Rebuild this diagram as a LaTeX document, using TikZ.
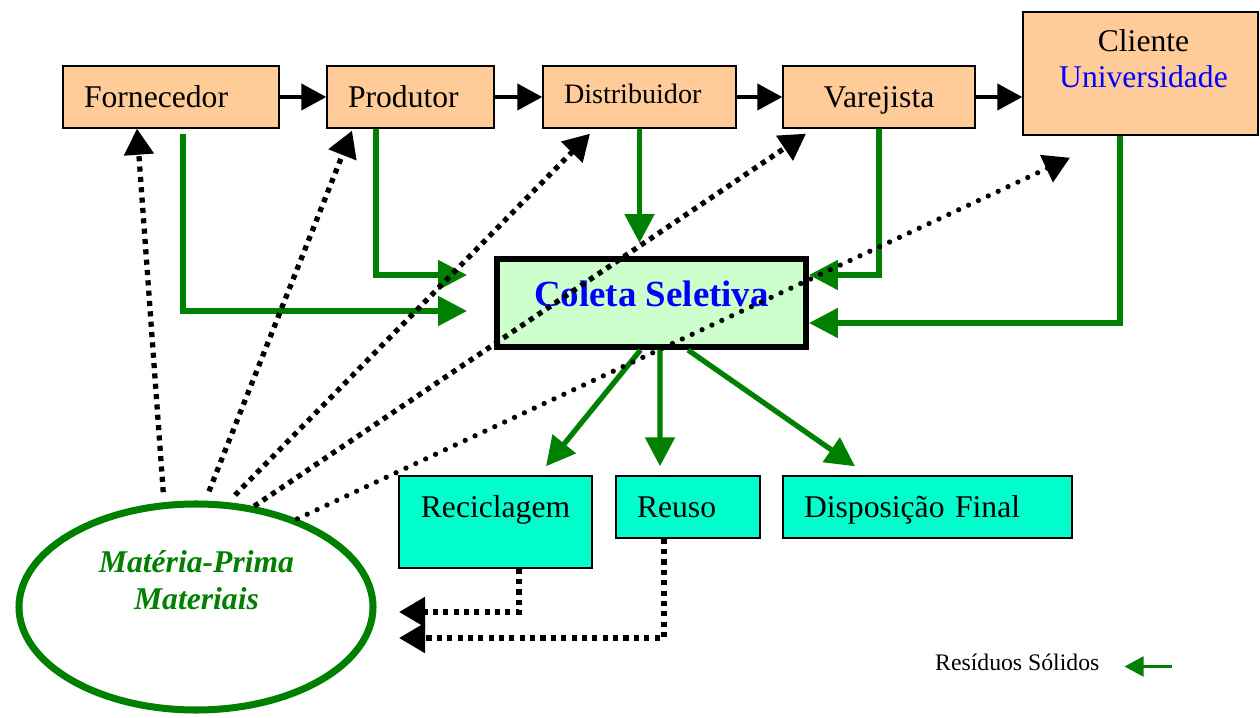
\documentclass[tikz,border=0pt]{standalone}
\usepackage{fontspec}
\setmainfont{Liberation Serif}
\usetikzlibrary{arrows.meta, shapes.geometric}
\definecolor{peach}{RGB}{255,204,153}
\definecolor{aqua}{RGB}{0,255,204}
\definecolor{mint}{RGB}{204,255,204}
\definecolor{leaf}{RGB}{0,128,0}
\tikzset{
  chain/.style={draw, line width=0.8pt, fill=peach, minimum height=1.24cm, inner xsep=0.42cm, font=\fontsize{18}{21}\selectfont},
  dest/.style={chain, fill=aqua},
  flow/.style={line width=2.4pt, -{Triangle[length=0.5cm,width=0.52cm]}},
  waste/.style={leaf, line width=3pt, -{Triangle[length=0.58cm,width=0.58cm]}},
  dots/.style={line width=3pt, dash pattern=on 2.9pt off 3pt, -{Triangle[length=0.52cm,width=0.58cm]}},
  specks/.style={line width=3pt, line cap=round, dash pattern=on 0pt off 6.2pt, -{Triangle[length=0.52cm,width=0.58cm]}}
}

\begin{document}
\begin{tikzpicture}
    \useasboundingbox (0,0) rectangle (25.2,14.34);
    % supply chain
    \node (forn) [chain, align=left, text width=3.48cm] at (3.42,12.40) {Fornecedor};
    \node (prod) [chain, align=left, text width=2.50cm] at (8.21,12.40) {Produtor};
    \node (dist) [chain, align=left, text width=3.02cm, text depth=0.12cm, font=\fontsize{16}{19}\selectfont] at (12.79,12.40) {Distribuidor};
    \node (varej) [chain, minimum width=3.84cm, text depth=0pt] at (17.58,12.40) {Varejista};
    \node (cliente) [chain, minimum width=4.70cm, minimum height=2.46cm] at (22.81,12.87) {};
    \node (clitxt) [align=center, font=\fontsize{18}{20.5}\selectfont] at (22.87,13.16) {Cliente\\\textcolor{blue}{Universidade}};
    \draw [flow] (forn.east) -- (prod.west);
    \draw [flow] (prod.east) -- (dist.west);
    \draw [flow] (dist.east) -- (varej.west);
    \draw [flow] (varej.east) -- (varej.east -| cliente.west);
    % collection
    \node (coleta) [draw, line width=3.4pt, fill=mint, minimum width=6.18cm, minimum height=1.76cm, text=blue, font=\fontsize{21}{25}\selectfont\bfseries, text depth=0.36cm] at (13.03,8.28) {Coleta Seletiva};
    \node (recicl) [dest, minimum width=3.86cm, minimum height=1.84cm, text depth=0.615cm] at (9.91,3.90) {Reciclagem};
    \node (reuso) [dest, align=left, text width=2.04cm] at (13.76,4.20) {Reuso};
    \node (disp) [dest, align=left, text width=4.94cm, text depth=0pt] at (18.55,4.20) {Disposição Final};
    \node (mat) [ellipse, draw=leaf, line width=4pt, minimum width=7.08cm, minimum height=4.12cm] at (3.92,2.20) {};
    \node (mattxt) [align=center, text=leaf, font=\fontsize{18}{21}\selectfont\bfseries\itshape] at (3.93,2.74) {Matéria-Prima\\Materiais};
    \draw [waste] ([xshift=0.24cm,yshift=-0.1cm]forn.south) |- ([xshift=-0.54cm,yshift=-0.16cm]coleta.west);
    \draw [waste] ([xshift=-0.69cm]prod.south) |- ([xshift=-0.54cm,yshift=0.56cm]coleta.west);
    \draw [waste, shorten >=0.26cm] (dist.south) -- (dist.south |- coleta.north);
    \draw [waste] (varej.south) |- ([yshift=0.56cm]coleta.east);
    \draw [waste] ([xshift=-0.41cm]cliente.south) |- ([yshift=-0.40cm]coleta.east);
    \draw [waste] ([xshift=-0.22cm]coleta.south) -- ([xshift=1.01cm,yshift=0.18cm]recicl.north);
    \draw [waste] ([xshift=0.17cm]coleta.south) -- ([xshift=-0.56cm,yshift=0.18cm]reuso.north);
    \draw [waste] ([xshift=0.73cm]coleta.south) -- ([xshift=-1.45cm,yshift=0.18cm]disp.north);
    % raw material back to the chain
    \draw [dots, shorten <=0.2cm] (mat.107) -- ([xshift=-0.68cm]forn.south);
    \draw [dots, shorten <=0.2cm] (mat.85) -- ([xshift=-1.17cm,yshift=-0.04cm]prod.south);
    \draw [dots, shorten <=0.2cm] (mat.73) -- ([xshift=-0.99cm,yshift=-0.1cm]dist.south);
    \draw [dots] (mat.60) -- ([xshift=-1.46cm,yshift=-0.1cm]varej.south);
    \draw [specks] (mat.41) -- ([xshift=-1.41cm,yshift=-0.44cm]cliente.south);
    \draw [dots, shorten >=0.45cm] ([xshift=0.47cm]recicl.south) |- ([yshift=-0.1cm]mat.east);
    \draw [dots, shorten >=0.45cm] ([xshift=-0.48cm]reuso.south) |- ([yshift=-0.62cm]mat.east);
    % legend
    \node (leg) [anchor=west, font=\fontsize{13.5}{16}\selectfont] at (18.58,1.09) {Resíduos Sólidos};
    \coordinate (legtail) at ([xshift=1.32cm,yshift=-0.08cm]leg.east);
    \coordinate (legtip) at ([xshift=0.38cm,yshift=-0.08cm]leg.east);
    \draw [leaf, line width=1.2pt, -{Triangle[length=0.38cm,width=0.4cm]}] (legtail) -- (legtip);
\end{tikzpicture}
\end{document}
